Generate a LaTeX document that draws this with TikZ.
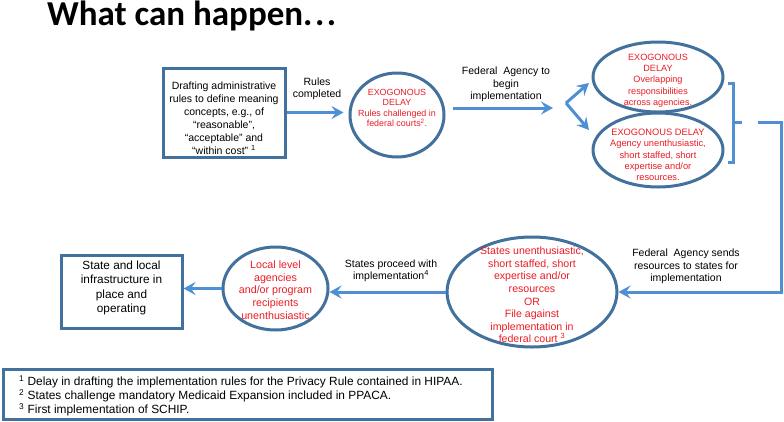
\documentclass[tikz,border=0pt]{standalone}
\usepackage{fontspec}
\setmainfont{Liberation Sans}
\newfontfamily\titlefont{Carlito}
\usetikzlibrary{shapes.geometric,arrows.meta}
\definecolor{bordercol}{RGB}{65,113,156}
\definecolor{arrowcol}{RGB}{79,143,211}
\definecolor{redtxt}{RGB}{235,28,36}
\begin{document}
\begin{tikzpicture}[x=1pt,y=-1pt,
 ell/.style={draw=bordercol,line width=3pt,ellipse,inner sep=0pt},
 boxst/.style={draw=bordercol,line width=3pt,rectangle,inner sep=0pt},
 redlbl/.style={text=redtxt,align=center,inner sep=0pt},
 blk/.style={align=center,inner sep=0pt},
 lbl/.style={align=center,inner sep=0pt,font=\fontsize{10.5}{12.3}\selectfont},
 conn/.style={draw=arrowcol,line width=3pt},
 arr/.style={conn,-{Stealth[length=12pt,width=13pt,inset=4.5pt]}},
]
\useasboundingbox (0,0) rectangle (784,421);
\fill[white] (0,0) rectangle (784,421);

% title
\node[anchor=base west,inner sep=0pt,font=\titlefont\bfseries\fontsize{35}{38}\selectfont] (title) at (47,25) {What can happen.\kern2.5pt.\kern2.5pt.};

% box 1
\node[boxst,minimum width=122pt,minimum height=89pt] (b1) at (224,112.5) {};
\node[blk,font=\fontsize{10.5}{13}\selectfont] (b1t) at (224,118) {Drafting administrative\\rules to define meaning\\concepts, e.g., of\\“reasonable”,\\“acceptable” and\\“within cost” \textsuperscript{1}};

% ellipse 1
\node[ell,minimum width=94pt,minimum height=84pt] (e1) at (397,115) {};
\node[redlbl,font=\fontsize{8.9}{10.6}\selectfont] (e1t) at (397,108) {EXOGONOUS\\DELAY\\Rules challenged in\\federal courts\textsuperscript{2}.};

% ellipse 2 (top right)
\node[ell,minimum width=130pt,minimum height=70pt] (e2) at (658,77) {};
\node[redlbl,font=\fontsize{9.1}{11.3}\selectfont] (e2t) at (658,80.5) {EXOGONOUS\\DELAY\\Overlapping\\responsibilities\\across agencies.};

% ellipse 3 (bottom right)
\node[ell,minimum width=130pt,minimum height=74pt] (e3) at (658,150) {};
\node[redlbl,font=\fontsize{9.3}{11.3}\selectfont] (e3t) at (658,155) {EXOGONOUS DELAY\\Agency unenthusiastic,\\short staffed, short\\expertise and/or\\resources.};

% ellipse 4 (states)
\node[ell,minimum width=170pt,minimum height=110pt] (e4) at (532,292) {};
\node[redlbl,font=\fontsize{10.6}{12.6}\selectfont] (e4t) at (532,295) {States unenthusiastic,\\short staffed, short\\expertise and/or\\resources\\OR\\File against\\implementation in\\federal court \textsuperscript{3}};

% ellipse 5 (local)
\node[ell,minimum width=105pt,minimum height=83pt] (e5) at (275.5,288.5) {};
\node[redlbl,font=\fontsize{10.7}{12.7}\selectfont] (e5t) at (275.5,290) {Local level\\agencies\\and/or program\\recipients\\unenthusiastic};

% box 2
\node[boxst,minimum width=121pt,minimum height=73pt] (b2) at (121.5,291.5) {};
\node[blk,font=\fontsize{11.8}{14.4}\selectfont] (b2t) at (121.5,288) {State and local\\infrastructure in\\place and\\operating};

% footnote box
\node[boxst,minimum width=489pt,minimum height=50pt] (fn) at (247.5,394.5) {};
\node[anchor=west,align=left,inner sep=0pt,font=\fontsize{11.9}{14}\selectfont] (fnt) at (19,396) {\textsuperscript{1} Delay in drafting the implementation rules for the Privacy Rule contained in HIPAA.\\\textsuperscript{2} States challenge mandatory Medicaid Expansion included in PPACA.\\\textsuperscript{3} First implementation of SCHIP.};

% labels
\node[lbl] (l1) at (317,89) {Rules\\completed};
\node[lbl] (l2) at (506,84.5) {Federal\ \ Agency to\\begin\\implementation};
\node[lbl] (l3) at (686,266.5) {Federal\ \ Agency sends\\resources to states for\\implementation};
\node[lbl] (l4) at (391,271) {States proceed with\\implementation\textsuperscript{4}};

% connectors
\draw[arr,shorten >=5pt] (b1.east) -- (b1.east -| e1.west);
\coordinate (a2s) at (453,108);
\coordinate (a2e) at (553,108);
\draw[arr] (a2s) -- (a2e);
\coordinate (fk) at (566,103);
\coordinate (fu) at (589,83);
\coordinate (fd) at (589,130);
\draw[arr] (fk) -- (fu);
\draw[arr] (fk) -- (fd);

% bracket
\coordinate (bt) at (728,83);
\coordinate (bb) at (728,162);
\coordinate (bm) at (742,122);
\draw[conn] (bt) -- (733,83) -- (733,162) -- (bb);
\draw[conn] (733,122) -- (bm);
\coordinate (c1) at (758,122);
\coordinate (c2) at (781,122);
\coordinate (c3) at (781,292);
\draw[arr] (c1) -- (c2) -- (c3) -- (e4.east);

\draw[arr] (e4.west) -- (e4.west -| e5.east);
\draw[arr] (e5.west) -- (e5.west -| b2.east);
\end{tikzpicture}
\end{document}
